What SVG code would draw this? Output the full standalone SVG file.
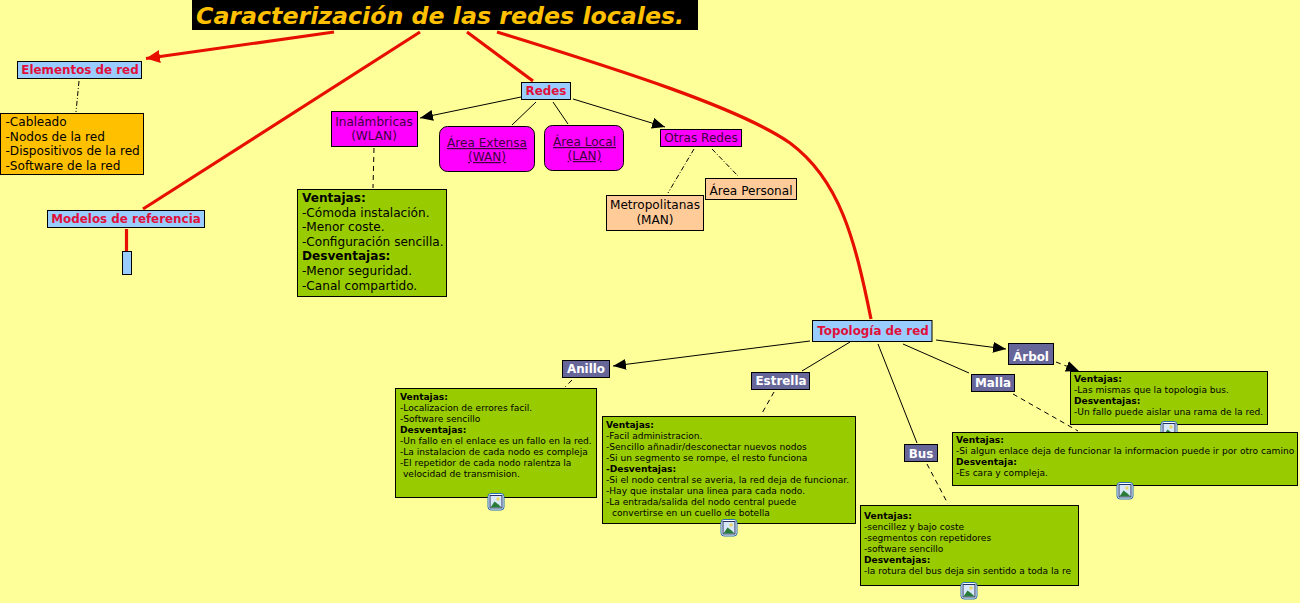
<svg xmlns="http://www.w3.org/2000/svg" width="1300" height="603" viewBox="0 0 1300 603">
<style>
text{font-family:"DejaVu Sans",Verdana,sans-serif;fill:#000}
.b{stroke:#000;stroke-width:1}
.top{fill:#99ccff}.mag{fill:#ff00ff}.org{fill:#ffc000}.pea{fill:#ffcc99}.grn{fill:#99cc00}.pur{fill:#666699}
.t{font-size:11.9px;font-weight:bold;fill:#e0103a;text-anchor:middle}
.w{font-size:11.9px;font-weight:bold;fill:#fff;text-anchor:middle}
.n{font-size:12.1px}.c{text-anchor:middle}.u{text-decoration:underline}
.s{font-size:9.08px}.h{font-weight:bold}
.red{fill:none;stroke:#e60f00;stroke-width:3.2}
.ln{fill:none;stroke:#000;stroke-width:1}
.ds{fill:none;stroke:#000;stroke-width:1;stroke-dasharray:5 4}
.dd{fill:none;stroke:#000;stroke-width:1;stroke-dasharray:5 2 1 2}
</style>
<defs>
<marker id="ah" markerUnits="userSpaceOnUse" markerWidth="14" markerHeight="12" refX="13" refY="5.5" orient="auto"><path d="M0 0L13 5.5L0 11Z" fill="#000"/></marker>
<marker id="ar" markerUnits="userSpaceOnUse" markerWidth="16" markerHeight="14" refX="14" refY="6.5" orient="auto"><path d="M0 0L14 6.5L0 13Z" fill="#e60f00"/></marker>
<g id="ico">
<rect x="0.5" y="0.5" width="16" height="16.500" rx="3" fill="#fff" stroke="#2a6fb0"/>
<rect x="2.500" y="2.500" width="12" height="12.500" fill="#d8e8f8" stroke="#223366"/>
<circle cx="10.500" cy="6" r="1.700" fill="#e8d860"/>
<path d="M3 14.500L7 8.500L11 11.500L14 14.500Z" fill="#2a7a3a"/>
</g>
</defs>
<rect width="1300" height="603" fill="#ffff99"/>
<g id="connectors">
<path class="red" d="M334 32L146 58.500" marker-end="url(#ar)"/>
<path class="red" d="M420 32L143 209"/>
<path class="red" d="M467 32L533 81"/>
<path class="red" d="M497 32C620 70 740 108 790 143C840 180 855 240 871 319"/>
<path class="red" d="M126.500 229V251"/>
<path class="ln" d="M521 97L420 118" marker-end="url(#ah)"/>
<path class="ln" d="M536 102L512 125"/>
<path class="ln" d="M553 102L568 124"/>
<path class="ln" d="M573 99L665 127" marker-end="url(#ah)"/>
<path class="ln" d="M810 341L613 366" marker-end="url(#ah)"/>
<path class="ln" d="M850 342L802 371"/>
<path class="ln" d="M878 344L917 443"/>
<path class="ln" d="M903 344L969 373"/>
<path class="ln" d="M936 340L1006 349" marker-end="url(#ah)"/>
<path class="dd" d="M79 81L76 112"/>
<path class="ds" d="M374 148L373 188"/>
<path class="dd" d="M694 149L668 193"/>
<path class="dd" d="M712 149L738 176"/>
<path class="ds" d="M572 380L565 387"/>
<path class="ds" d="M774 392L761 415"/>
<path class="ds" d="M1013 394L1078 431"/>
<path class="ds" d="M927 464L948 504"/>
<path class="ds" d="M1056 362L1079 371" marker-end="url(#ah)"/>
</g>
<g id="title"><rect x="192" y="0" width="506" height="30" fill="#000"/><text x="196" y="24" style="font-size:23.7px;font-weight:bold;font-style:italic;fill:#ffc000">Caracterización de las redes locales.</text></g>
<g id="elementos"><rect class="top b" x="17.500" y="61.500" width="124" height="17"/><text class="t" x="80" y="74">Elementos de red</text></g>
<g id="elementos-lista"><rect class="org b" x="0.500" y="113.500" width="143" height="61"/><text class="n"><tspan x="5.500" y="126">-Cableado</tspan><tspan x="5.500" y="141">-Nodos de la red</tspan><tspan x="5.500" y="155">-Dispositivos de la red</tspan><tspan x="5.500" y="170">-Software de la red</tspan></text></g>
<g id="modelos"><rect class="top b" x="47.500" y="210.500" width="157" height="17"/><text class="t" x="126" y="223">Modelos de referencia</text></g>
<g id="modelos-hijo"><rect class="top b" x="122.500" y="251.500" width="9" height="23"/></g>
<g id="redes"><rect class="top b" x="521.500" y="82.500" width="49" height="17"/><text class="t" x="546" y="95">Redes</text></g>
<g id="wlan"><rect class="mag b" x="331.500" y="111.500" width="86" height="35"/><text class="n c" style="fill:#400040"><tspan x="374" y="126">Inalámbricas</tspan><tspan x="374" y="140">(WLAN)</tspan></text></g>
<g id="wlan-info"><rect class="grn b" x="297.500" y="189.500" width="149" height="107"/><text class="n"><tspan class="h" x="302" y="202">Ventajas:</tspan><tspan x="302" y="217">-Cómoda instalación.</tspan><tspan x="302" y="231">-Menor coste.</tspan><tspan x="302" y="246">-Configuración sencilla.</tspan><tspan class="h" x="302" y="260">Desventajas:</tspan><tspan x="302" y="275">-Menor seguridad.</tspan><tspan x="302" y="290">-Canal compartido.</tspan></text></g>
<g id="wan"><rect class="mag b" x="439.500" y="126.500" width="95" height="45" rx="8"/><text class="n c u" style="fill:#400040"><tspan x="487" y="147">Área Extensa</tspan><tspan x="487" y="161">(WAN)</tspan></text></g>
<g id="lan"><rect class="mag b" x="544.500" y="125.500" width="79" height="45" rx="8"/><text class="n c u" style="fill:#400040"><tspan x="584.500" y="146">Área Local</tspan><tspan x="584.500" y="160">(LAN)</tspan></text></g>
<g id="otras"><rect class="mag b" x="660.500" y="129.500" width="81" height="17"/><text class="n c" x="701" y="142" style="fill:#400040">Otras Redes</text></g>
<g id="man"><rect class="pea b" x="606.500" y="195.500" width="97" height="35"/><text class="n c"><tspan x="655" y="209">Metropolitanas</tspan><tspan x="655" y="224">(MAN)</tspan></text></g>
<g id="pan"><rect class="pea b" x="705.500" y="178.500" width="91" height="21"/><text class="n c" x="751" y="195">Área Personal</text></g>
<g id="topologia"><rect class="top b" x="812.500" y="320.500" width="119.500" height="21"/><text class="t" x="873" y="335">Topología de red</text></g>
<g id="arbol"><rect class="pur b" x="1008.500" y="343.500" width="45" height="21"/><text class="w" x="1031" y="361">Árbol</text></g>
<g id="malla"><rect class="pur b" x="971.500" y="374.500" width="43" height="17"/><text class="w" x="993" y="387">Malla</text></g>
<g id="bus"><rect class="pur b" x="904.500" y="444.500" width="33" height="17"/><text class="w" x="921" y="458">Bus</text></g>
<g id="anillo"><rect class="pur b" x="562.500" y="360.500" width="47" height="17"/><text class="w" x="586" y="373">Anillo</text></g>
<g id="estrella"><rect class="pur b" x="751.500" y="372.500" width="58" height="17"/><text class="w" x="781" y="385">Estrella</text></g>
<g id="anillo-info"><rect class="grn b" x="395.500" y="388.500" width="201" height="109"/><text class="s"><tspan class="h" x="400" y="400">Ventajas:</tspan><tspan x="400" y="411">-Localizacion de errores facil.</tspan><tspan x="400" y="422">-Software sencillo</tspan><tspan class="h" x="400" y="433">Desventajas:</tspan><tspan x="400" y="444">-Un fallo en el enlace es un fallo en la red.</tspan><tspan x="400" y="455">-La instalacion de cada nodo es compleja</tspan><tspan x="400" y="466">-El repetidor de cada nodo ralentza la</tspan><tspan x="403" y="477">velocidad de transmision.</tspan></text><use href="#ico" x="487.500" y="493"/></g>
<g id="estrella-info"><rect class="grn b" x="602.500" y="416.500" width="253" height="107"/><text class="s"><tspan class="h" x="606" y="428">Ventajas:</tspan><tspan x="606" y="439">-Facil administracion.</tspan><tspan x="606" y="450">-Sencillo añnadir/desconectar nuevos nodos</tspan><tspan x="606" y="461">-Si un segmento se rompe, el resto funciona</tspan><tspan class="h" x="606" y="472">-Desventajas:</tspan><tspan x="606" y="483">-Si el nodo central se averia, la red deja de funcionar.</tspan><tspan x="606" y="494">-Hay que instalar una linea para cada nodo.</tspan><tspan x="606" y="505">-La entrada/salida del nodo central puede</tspan><tspan x="612" y="516">convertirse en un cuello de botella</tspan></text><use href="#ico" x="720.500" y="519"/></g>
<g id="bus-info"><rect class="grn b" x="860.500" y="505.500" width="218" height="80"/><text class="s"><tspan class="h" x="864" y="519">Ventajas:</tspan><tspan x="864" y="530">-sencillez y bajo coste</tspan><tspan x="864" y="541">-segmentos con repetidores</tspan><tspan x="864" y="552">-software sencillo</tspan><tspan class="h" x="864" y="563">Desventajas:</tspan><tspan x="864" y="574">-la rotura del bus deja sin sentido a toda la re</tspan></text><use href="#ico" x="960.500" y="582"/></g>
<g id="arbol-info"><rect class="grn b" x="1070.500" y="371.500" width="197" height="53"/><use href="#ico" x="1160.500" y="421"/><text class="s"><tspan class="h" x="1074" y="382">Ventajas:</tspan><tspan x="1074" y="393">-Las mismas que la topologia bus.</tspan><tspan class="h" x="1074" y="404">Desventajas:</tspan><tspan x="1074" y="415">-Un fallo puede aislar una rama de la red.</tspan></text></g>
<g id="malla-info"><rect class="grn b" x="952.500" y="432.500" width="345" height="53"/><text class="s"><tspan class="h" x="956" y="443">Ventajas:</tspan><tspan x="956" y="454">-Si algun enlace deja de funcionar la informacion puede ir por otro camino</tspan><tspan class="h" x="956" y="465">Desventaja:</tspan><tspan x="956" y="476">-Es cara y compleja.</tspan></text><use href="#ico" x="1116.500" y="482"/></g>
</svg>
